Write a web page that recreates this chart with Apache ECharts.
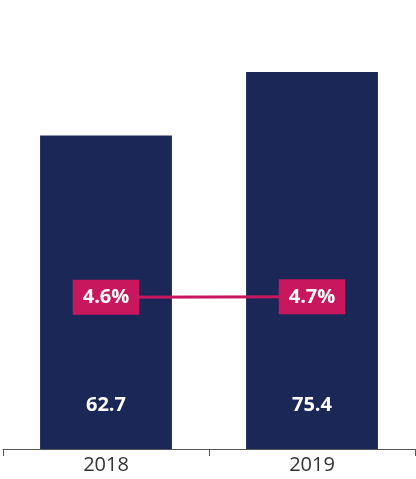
<!DOCTYPE html>
<html>
<head>
<meta charset="utf-8">
<script src="https://cdn.jsdelivr.net/npm/echarts@6/dist/echarts.min.js"></script>
<style>
  html, body { margin: 0; padding: 0; background: #fff; }
  #chart { width: 416px; height: 479px; }
</style>
</head>
<body>
<div id="chart"></div>
<script>
var years = ['2018', '2019'];
var totals = [62.7, 75.4];
var shares = [4.6, 4.7];

var navy = '#1b2857';
var pink = '#c8175d';
var font = '"Open Sans", sans-serif';

var chart = echarts.init(document.getElementById('chart'));
chart.setOption({
  animation: false,
  textStyle: { fontFamily: font },
  grid: { left: 3, right: 1, top: 49, bottom: 30 },
  xAxis: {
    type: 'category',
    data: years,
    axisLine: { lineStyle: { color: '#555', width: 1 } },
    axisTick: { show: true, length: 7, lineStyle: { color: '#555' } },
    axisLabel: { color: '#333', fontSize: 20, margin: 6, fontFamily: font }
  },
  yAxis: [
    { type: 'value', min: 0, max: 80, show: false, splitLine: { show: false } },
    { type: 'value', min: -40, max: 77.5, show: false, splitLine: { show: false } }
  ],
  series: [
    {
      type: 'bar',
      data: totals,
      barWidth: '64%',
      itemStyle: { color: navy },
      label: {
        show: true,
        position: 'insideBottom',
        distance: 34,
        color: '#fff',
        fontSize: 20,
        fontWeight: 'bold',
        fontFamily: font
      }
    },
    {
      type: 'line',
      yAxisIndex: 1,
      data: shares,
      symbol: 'rect',
      symbolSize: 1,
      showSymbol: true,
      itemStyle: { color: pink },
      lineStyle: { color: pink, width: 3 },
      label: {
        show: true,
        position: 'inside',
        formatter: function (p) { return p.value.toFixed(1) + '%'; },
        color: '#fff',
        backgroundColor: pink,
        fontSize: 20,
        fontWeight: 'bold',
        fontFamily: font,
        padding: [8, 10, 7, 10],
        lineHeight: 20
      }
    }
  ]
});
</script>
</body>
</html>
